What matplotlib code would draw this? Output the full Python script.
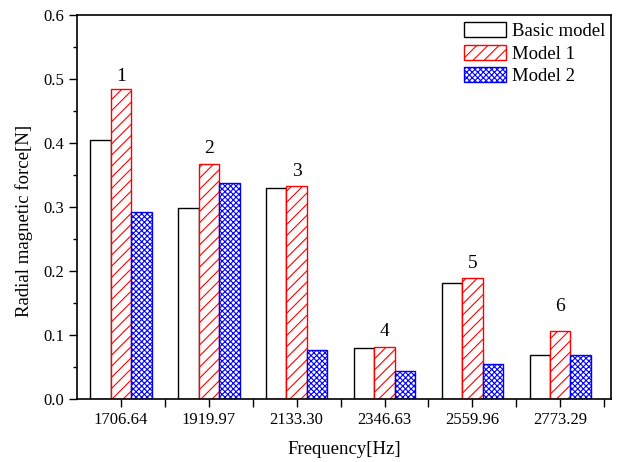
import numpy as np
import matplotlib
matplotlib.use('Agg')
import matplotlib.pyplot as plt

# Data
freqs = ['1706.64', '1919.97', '2133.30', '2346.63', '2559.96', '2773.29']
basic = [0.405, 0.298, 0.329, 0.079, 0.181, 0.068]
model1 = [0.484, 0.368, 0.333, 0.081, 0.189, 0.107]
model2 = [0.292, 0.337, 0.077, 0.043, 0.055, 0.068]
peak_labels = ['1', '2', '3', '4', '5', '6']
peak_label_y = [0.504, 0.392, 0.355, 0.106, 0.212, 0.144]

plt.rcParams['font.family'] = 'Liberation Serif'
plt.rcParams['hatch.linewidth'] = 0.8

fig = plt.figure(figsize=(6.23, 4.62), dpi=100)
ax = fig.add_axes([0.1236, 0.1364, 0.8575, 0.831])

x = np.arange(len(freqs))
w = 0.233
ax.bar(x - w, basic, w, facecolor='white', edgecolor='black', lw=1, label='Basic model')
ax.bar(x, model1, w, facecolor='white', edgecolor='red', hatch='///', lw=1, label='Model 1')
ax.bar(x + w, model2, w, facecolor='white', edgecolor='blue', hatch='xxxxxx', lw=1, label='Model 2')

for xi, lab, yl in zip(x, peak_labels, peak_label_y):
    ax.text(xi, yl, lab, ha='center', va='center', fontsize=14)

ax.set_xlim(-0.5, 5.58)
ax.set_ylim(0, 0.6)
ax.set_xticks(x)
ax.set_xticklabels(freqs)
ax.set_xticks(list(x[:-1] + 0.5) + [5.5], minor=True)
ax.set_yticks(np.arange(0, 0.61, 0.1))
ax.set_yticks(np.arange(0.05, 0.6, 0.1), minor=True)
ax.yaxis.set_major_formatter(matplotlib.ticker.FormatStrFormatter('%.1f'))
ax.tick_params(which='major', direction='out', length=6, width=1, labelsize=12)
ax.tick_params(which='minor', direction='out', length=3, width=1)
ax.tick_params(axis='x', which='minor', length=6)
for s in ax.spines.values():
    s.set_linewidth(1.2)

ax.set_xlabel('Frequency[Hz]', fontsize=13.5, labelpad=9)
ax.set_ylabel('Radial magnetic force[N]', fontsize=13.5, labelpad=7)
ax.yaxis.label.set_y(0.464)

ax.legend(loc='upper right', frameon=False, fontsize=13.5, handlelength=2.24,
          handleheight=0.85, labelspacing=0.23, handletextpad=0.35,
          borderaxespad=0.15, bbox_to_anchor=(1.009, 1.008))

plt.savefig('out.png', dpi=100)
